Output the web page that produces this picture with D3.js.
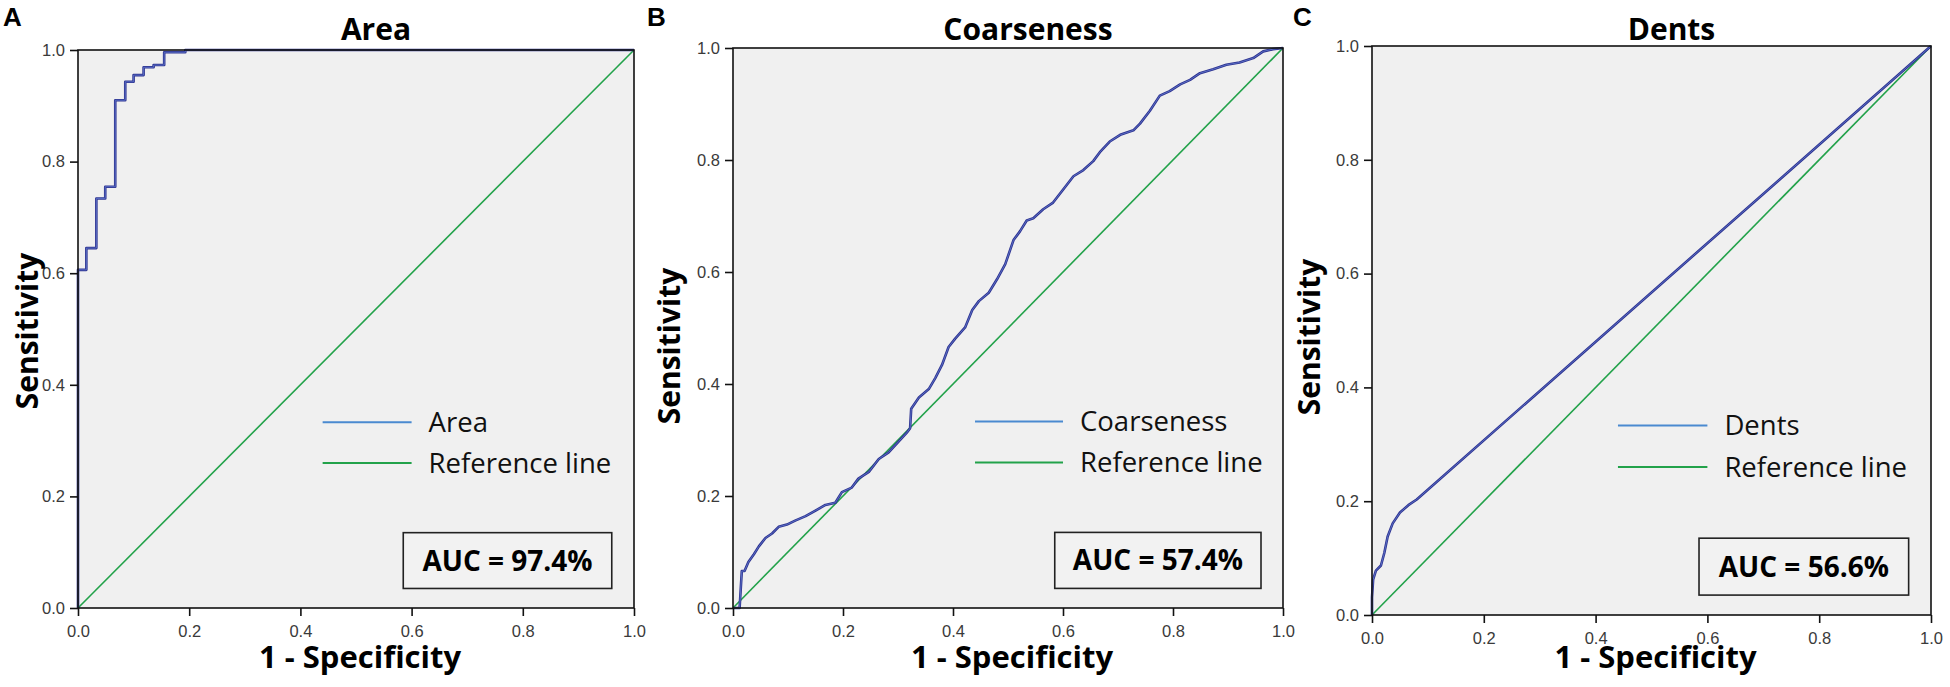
<!DOCTYPE html>
<html>
<head>
<meta charset="utf-8">
<script src="https://cdn.jsdelivr.net/npm/d3@7"></script>
<style>
  body { margin: 0; background: #fff; }
  svg { display: block; }
</style>
</head>
<body>
<div id="chart"></div>
<script>
// values
var tickValues = [0, 0.2, 0.4, 0.6, 0.8, 1.0];
var letters = ["A", "B", "C"];
var titles = ["Area", "Coarseness", "Dents"];
var aucLabels = ["AUC = 97.4%", "AUC = 57.4%", "AUC = 56.6%"];
var refLine = [[0, 0], [1, 1]];

// Area: step curve corners (1 - specificity, sensitivity)
var areaFpr = [0, 0.015, 0.033, 0.049, 0.067, 0.085, 0.100, 0.118, 0.136, 0.155, 0.193, 1];
var areaTpr = [0, 0.606, 0.645, 0.734, 0.755, 0.910, 0.943, 0.955, 0.969, 0.973, 0.996, 1];

var coarseFpr = [0, 0.012, 0.016, 0.021, 0.028, 0.038, 0.047, 0.059, 0.071, 0.083, 0.098, 0.113, 0.132, 0.150, 0.168, 0.186,
  0.198, 0.216, 0.228, 0.247, 0.265, 0.283, 0.301, 0.316, 0.322, 0.324, 0.338, 0.356, 0.368, 0.380, 0.392, 0.404, 0.422,
  0.435, 0.447, 0.465, 0.480, 0.495, 0.510, 0.522, 0.534, 0.546, 0.564, 0.582, 0.600, 0.619, 0.637, 0.655, 0.667, 0.685,
  0.704, 0.728, 0.740, 0.758, 0.776, 0.794, 0.813, 0.831, 0.849, 0.873, 0.897, 0.921, 0.946, 0.964, 0.982, 1];
var coarseTpr = [0, 0, 0.066, 0.066, 0.082, 0.096, 0.110, 0.125, 0.133, 0.145, 0.149, 0.156, 0.164, 0.174, 0.184, 0.188,
  0.207, 0.215, 0.231, 0.243, 0.266, 0.278, 0.297, 0.313, 0.321, 0.356, 0.376, 0.391, 0.411, 0.434, 0.466, 0.481, 0.501,
  0.532, 0.548, 0.563, 0.587, 0.614, 0.657, 0.673, 0.692, 0.696, 0.712, 0.724, 0.747, 0.771, 0.782, 0.798, 0.814, 0.833,
  0.845, 0.853, 0.865, 0.888, 0.915, 0.923, 0.935, 0.943, 0.955, 0.962, 0.970, 0.974, 0.982, 0.994, 0.998, 1];

var dentsFpr = [0, 0, 0.002, 0.007, 0.016, 0.022, 0.028, 0.037, 0.050, 0.065, 0.080, 1];
var dentsTpr = [0, 0.031, 0.062, 0.078, 0.087, 0.109, 0.138, 0.161, 0.180, 0.193, 0.203, 1];

var curves = [
  { fpr: areaFpr, tpr: areaTpr, step: true },
  { fpr: coarseFpr, tpr: coarseTpr, step: false },
  { fpr: dentsFpr, tpr: dentsTpr, step: false }
];

// plot frames in page pixels, plus where the rotated y title sits
var frames = [
  { left: 78, right: 634, top: 50, bottom: 608, ylabX: -40, ylabY: 331, letterX: 3 },
  { left: 733, right: 1283, top: 48, bottom: 608, ylabX: -53, ylabY: 346, letterX: 647 },
  { left: 1372, right: 1931, top: 46, bottom: 615, ylabX: -52, ylabY: 337, letterX: 1293 }
];

var boldFont = "Open Sans";
var tickFont = "Liberation Sans";

var svg = d3.select("#chart").append("svg")
  .attr("width", 1950)
  .attr("height", 687);

frames.forEach(function(f, i) {
  var w = f.right - f.left, h = f.bottom - f.top;
  var x = d3.scaleLinear().domain([0, 1]).range([0, w]);
  var y = d3.scaleLinear().domain([0, 1]).range([h, 0]);

  var g = svg.append("g").attr("transform", "translate(" + f.left + "," + f.top + ")");

  g.append("rect")
    .attr("width", w).attr("height", h)
    .attr("fill", "#f0f0f0");

  // reference line
  g.append("path")
    .datum(refLine)
    .attr("d", d3.line().x(function(d) { return x(d[0]); }).y(function(d) { return y(d[1]); }))
    .attr("fill", "none")
    .attr("stroke", "#22a24a")
    .attr("stroke-width", 1.6);

  var pts = curves[i].fpr.map(function(v, k) { return [v, curves[i].tpr[k]]; });
  var line = d3.line()
    .x(function(d) { return x(d[0]); })
    .y(function(d) { return y(d[1]); })
    .curve(curves[i].step ? d3.curveStepBefore : d3.curveLinear);

  g.append("path").datum(pts).attr("d", line)
    .attr("fill", "none").attr("stroke", "#2e3391").attr("stroke-width", 2.6)
    .attr("stroke-linejoin", "round");
  g.append("path").datum(pts).attr("d", line)
    .attr("fill", "none").attr("stroke", "#5d74c8").attr("stroke-width", 0.9);

  // frame
  g.append("rect")
    .attr("width", w).attr("height", h)
    .attr("fill", "none").attr("stroke", "#111").attr("stroke-width", 1.6);

  var fmt = d3.format(".1f");
  var yAxis = g.append("g")
    .call(d3.axisLeft(y).tickValues(tickValues).tickFormat(fmt).tickSize(8).tickSizeOuter(0).tickPadding(5));
  var xAxis = g.append("g")
    .attr("transform", "translate(0," + h + ")")
    .call(d3.axisBottom(x).tickValues(tickValues).tickFormat(fmt).tickSize(8).tickSizeOuter(0).tickPadding(9));
  [yAxis, xAxis].forEach(function(a) {
    a.select(".domain").remove();
    a.selectAll(".tick line").attr("stroke", "#111").attr("stroke-width", 1.6);
    a.selectAll(".tick text")
      .attr("fill", "#3a3a3a")
      .style("font-family", tickFont)
      .style("font-size", "16.5px");
  });

  // title
  g.append("text")
    .attr("x", w / 2 + 20).attr("y", 40 - f.top)
    .attr("text-anchor", "middle")
    .style("font-family", boldFont).style("font-weight", "bold")
    .style("font-size", "30px")
    .text(titles[i]);

  // axis titles
  g.append("text")
    .attr("x", w / 2 + 4).attr("y", 668 - f.top)
    .attr("text-anchor", "middle")
    .style("font-family", boldFont).style("font-weight", "bold")
    .style("font-size", "31px")
    .text("1 - Specificity");

  g.append("text")
    .attr("transform", "translate(" + f.ylabX + "," + (f.ylabY - f.top) + ") rotate(-90)")
    .attr("text-anchor", "middle")
    .style("font-family", boldFont).style("font-weight", "bold")
    .style("font-size", "30px")
    .text("Sensitivity");

  // panel letter
  svg.append("text")
    .attr("x", f.letterX).attr("y", 26)
    .style("font-family", "Liberation Sans").style("font-weight", "bold")
    .style("font-size", "26px")
    .text(letters[i]);

  // legend
  var lx0 = x(0.44), lx1 = x(0.6);
  var legend = g.append("g");
  [[titles[i], "#4a8ad0", y(0.333)], ["Reference line", "#22a24a", y(0.26)]].forEach(function(item) {
    legend.append("line")
      .attr("x1", lx0).attr("x2", lx1)
      .attr("y1", item[2]).attr("y2", item[2])
      .attr("stroke", item[1]).attr("stroke-width", 2);
    legend.append("text")
      .attr("x", lx1 + 17).attr("y", item[2])
      .attr("dy", "0.35em")
      .style("font-family", "Open Sans")
      .style("font-size", "27.5px")
      .attr("fill", "#111")
      .text(item[0]);
  });

  // AUC box
  var bx0 = x(0.585), bx1 = x(0.96), by0 = y(0.135), by1 = y(0.035);
  g.append("rect")
    .attr("x", bx0).attr("y", by0)
    .attr("width", bx1 - bx0).attr("height", by1 - by0)
    .attr("fill", "#f2f2f2")
    .attr("stroke", "#222").attr("stroke-width", 1.6);
  g.append("text")
    .attr("x", (bx0 + bx1) / 2).attr("y", (by0 + by1) / 2)
    .attr("dy", "0.36em")
    .attr("text-anchor", "middle")
    .style("font-family", boldFont).style("font-weight", "bold")
    .style("font-size", "28px")
    .text(aucLabels[i]);
});
</script>
</body>
</html>
